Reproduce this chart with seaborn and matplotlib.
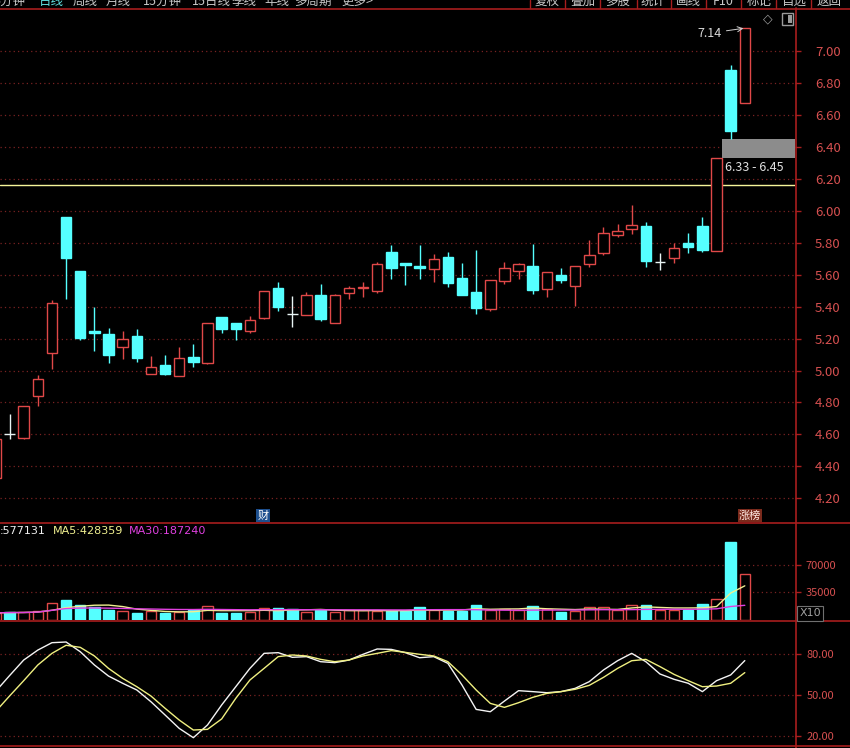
import numpy as np
import pandas as pd
import matplotlib
matplotlib.use("Agg")
import matplotlib.pyplot as plt
from matplotlib.patches import Rectangle
from matplotlib.lines import Line2D
import seaborn as sns

# ---------------- data ----------------
opens = [4.33, 4.60, 4.58, 4.84, 5.11, 5.96, 5.62, 5.25, 5.23, 5.15,
         5.215, 4.98, 5.035, 4.965, 5.085, 5.045, 5.333, 5.295, 5.25, 5.33,
         5.514, 5.353, 5.345, 5.472, 5.30, 5.483, 5.514, 5.50, 5.74, 5.674,
         5.653, 5.636, 5.707, 5.58, 5.49, 5.383, 5.56, 5.62, 5.653, 5.51,
         5.60, 5.53, 5.666, 5.736, 5.849, 5.883, 5.903, 5.68, 5.705, 5.80,
         5.903, 5.75, 6.88, 6.67]
highs = [4.57, 4.73, 4.78, 4.97, 5.44, 5.96, 5.62, 5.40, 5.265, 5.25,
         5.26, 5.09, 5.10, 5.15, 5.165, 5.30, 5.335, 5.295, 5.34, 5.50,
         5.555, 5.466, 5.49, 5.54, 5.48, 5.528, 5.555, 5.68, 5.784, 5.674,
         5.784, 5.728, 5.74, 5.67, 5.753, 5.564, 5.68, 5.67, 5.79, 5.614,
         5.64, 5.653, 5.816, 5.895, 5.916, 6.034, 5.926, 5.736, 5.795, 5.857,
         5.957, 6.33, 6.91, 7.14]
lows = [4.30, 4.57, 4.57, 4.78, 5.01, 5.45, 5.19, 5.12, 5.045, 5.07,
        5.055, 4.98, 4.97, 4.965, 5.02, 5.04, 5.237, 5.19, 5.237, 5.325,
        5.374, 5.274, 5.345, 5.307, 5.30, 5.45, 5.457, 5.486, 5.574, 5.534,
        5.574, 5.555, 5.52, 5.474, 5.353, 5.372, 5.54, 5.574, 5.476, 5.457,
        5.545, 5.403, 5.645, 5.722, 5.836, 5.853, 5.645, 5.628, 5.67, 5.736,
        5.74, 5.75, 6.45, 6.67]
closes = [4.57, 4.60, 4.78, 4.945, 5.42, 5.705, 5.205, 5.235, 5.10, 5.20,
          5.08, 5.02, 4.98, 5.08, 5.055, 5.30, 5.258, 5.258, 5.316, 5.50,
          5.40, 5.353, 5.472, 5.324, 5.472, 5.514, 5.522, 5.666, 5.643, 5.657,
          5.64, 5.70, 5.545, 5.474, 5.389, 5.564, 5.64, 5.664, 5.503, 5.614,
          5.566, 5.653, 5.722, 5.86, 5.872, 5.91, 5.686, 5.68, 5.767, 5.774,
          5.753, 6.33, 6.50, 7.14]
volume = [9000, 9800, 9800, 11800, 21200, 25500, 18700, 16500, 12700, 11800,
          9300, 11000, 9300, 10200, 12700, 17800, 9300, 9300, 10200, 14900,
          15300, 13600, 10600, 12700, 10200, 12700, 12700, 11800, 11000, 11000,
          16100, 12700, 11900, 11900, 18700, 12700, 14400, 12700, 17800, 13600,
          10200, 11900, 16100, 16100, 12700, 19500, 18700, 12700, 12700, 12700,
          20400, 26700, 98400, 58500]
doji_volume_up = {1: False, 21: False, 47: True}
k_vals = [52.7, 64.4, 75.8, 83.1, 88.5, 89.0, 81.9, 72.2, 64.1, 58.8,
          53.9, 45.3, 35.6, 25.8, 19.0, 28.3, 42.9, 56.3, 69.7, 80.7,
          81.2, 77.8, 78.3, 74.6, 73.9, 75.8, 80.0, 83.9, 83.6, 81.2,
          77.5, 78.3, 73.4, 57.5, 39.7, 38.0, 45.8, 53.4, 52.7, 51.9,
          52.7, 55.1, 60.0, 68.5, 75.3, 80.7, 74.6, 65.6, 61.7, 58.8,
          52.7, 60.7, 64.9, 75.4]
d_vals = [38.0, 49.5, 60.7, 72.2, 80.7, 86.6, 85.1, 78.8, 69.7, 62.4,
          56.3, 49.5, 40.5, 31.9, 24.6, 25.1, 32.7, 47.8, 61.2, 69.7,
          78.3, 79.5, 78.8, 76.3, 74.6, 75.8, 78.8, 80.7, 82.7, 81.4,
          80.0, 78.8, 74.6, 64.9, 53.9, 44.1, 41.2, 44.6, 48.5, 51.4,
          52.7, 54.4, 57.3, 63.1, 69.7, 75.3, 76.3, 71.0, 65.3, 60.7,
          56.3, 56.8, 58.8, 66.6]
price_ticks = [4.20, 4.40, 4.60, 4.80, 5.00, 5.20, 5.40, 5.60, 5.80,
               6.00, 6.20, 6.40, 6.60, 6.80, 7.00]
vol_ticks = [35000, 70000]
kd_ticks = [20, 50, 80]
resistance_level = 6.16
vol_label_values = {"": 577131, "MA5": 428359, "MA30": 187240}
top_left_menu = ["5分钟", "日线", "周线", "月线", "15分钟", "15日线", "季线", "年线", "多周期", "更多>"]
top_right_menu = ["复权", "叠加", "多股", "统计", "画线", "F10", "标记", "自选", "返回"]

# ---------------- style ----------------
sns.set_theme(style="dark", rc={"axes.facecolor": "black", "figure.facecolor": "black"})
plt.rcParams["font.family"] = ["Noto Sans CJK SC", "DejaVu Sans"]

W, H = 850, 748
fig = plt.figure(figsize=(W / 100, H / 100), dpi=100)
fig.patch.set_facecolor("black")


def rect(x0, y0, x1, y1):
    return [x0 / W, 1 - y1 / H, (x1 - x0) / W, (y1 - y0) / H]


ax_p = fig.add_axes(rect(0, 8, 795, 522))
ax_v = fig.add_axes(rect(0, 522, 795, 620))
ax_k = fig.add_axes(rect(0, 620, 795, 745))

RED = "#e04848"
CYAN = "#55ffff"
WHITE = "#e8f4f4"
GRID = "#7a2222"
AXRED = "#a81e1e"
LBL = "#d65050"
XL = (0.325, 56.55)
BW = 0.74

df = pd.DataFrame(dict(o=opens, h=highs, l=lows, c=closes, v=volume))
idx = np.arange(len(df))
up = (df.c > df.o).values
dn = (df.c < df.o).values
eq = ~(up | dn)

for ax in (ax_p, ax_v, ax_k):
    ax.set_facecolor("black")
    ax.set_xlim(*XL)
    ax.set_xticks([])
    for s in ax.spines.values():
        s.set_visible(False)
    ax.yaxis.tick_right()
    ax.grid(False)
    ax.tick_params(axis="y", which="major", direction="out", length=4.5, width=1,
                   color=AXRED, labelcolor=LBL, right=True, left=False)

# ---- price panel ----
for mask, col in ((up, RED), (dn, CYAN), (eq, WHITE)):
    ax_p.vlines(idx[mask], df.l[mask], df.h[mask], color=col, lw=1, zorder=2)
ax_p.bar(idx[up], (df.c - df.o)[up], bottom=df.o[up], width=BW,
         facecolor="black", edgecolor=RED, lw=1, zorder=3)
ax_p.bar(idx[dn], (df.o - df.c)[dn], bottom=df.c[dn], width=BW,
         color=CYAN, edgecolor=CYAN, lw=1, zorder=3)
ax_p.hlines(df.o[eq], idx[eq] - BW / 2, idx[eq] + BW / 2, color=WHITE, lw=1, zorder=3)

for t in price_ticks:
    ax_p.axhline(t, color=GRID, lw=0.9, ls=(0, (1, 2.5)), zorder=0)
ax_p.set_ylim(4.053, 7.266)
ax_p.set_yticks(price_ticks)
ax_p.set_yticklabels([f"{t:.2f}" for t in price_ticks], fontsize=9.5)
ax_p.tick_params(axis="y", pad=10)
ax_p.axhline(resistance_level, color="#f5f59a", lw=1, zorder=1)

# gap between the last limit-up days
gi = len(df) - 2
gap_low, gap_high = highs[gi - 1], lows[gi]
gx0 = (gi - 1) + BW / 2
ax_p.add_patch(Rectangle((gx0, gap_low), XL[1] - gx0, gap_high - gap_low,
                         facecolor="#8c8c8c", edgecolor="none", zorder=1))
ax_p.annotate(f"{gap_low:.2f} - {gap_high:.2f}", xy=(gx0, gap_low), xytext=(3, -10),
              textcoords="offset pixels", ha="left", va="center", color="#e0e0e0",
              fontsize=9)
imax = int(np.argmax(highs))
ax_p.annotate(f"{highs[imax]:.2f}", xy=(imax, highs[imax]), xytext=(-23, -5),
              textcoords="offset pixels", ha="right", va="center", color="#d8d8d8",
              fontsize=9,
              arrowprops=dict(arrowstyle="->", color="#d0d0d0", lw=0.7,
                              shrinkA=1, shrinkB=1))

# ---- volume panel ----
vol_up = up.copy()
for i, v in doji_volume_up.items():
    vol_up[i] = v
ax_v.bar(idx[vol_up], df.v[vol_up], width=BW, facecolor="black", edgecolor=RED, lw=1, zorder=3)
ax_v.bar(idx[~vol_up], df.v[~vol_up], width=BW, color=CYAN, edgecolor=CYAN, lw=1, zorder=3)
ma5 = df.v.rolling(5, min_periods=1).mean()
ma30 = df.v.rolling(30, min_periods=1).mean()
sns.lineplot(x=idx, y=ma5.values, ax=ax_v, color="#f0f090", lw=1, zorder=4, legend=False)
sns.lineplot(x=idx, y=ma30.values, ax=ax_v, color="#e040e0", lw=1, zorder=4, legend=False)
for t in vol_ticks:
    ax_v.axhline(t, color=GRID, lw=0.9, ls=(0, (1, 2.5)), zorder=0)
ax_v.set_ylim(0, 124300)
ax_v.set_yticks(vol_ticks)
ax_v.set_yticklabels([str(t) for t in vol_ticks], fontsize=8)
ax_v.tick_params(axis="y", pad=3)
ax_v.set_ylabel("")

# ---- K/D panel ----
sns.lineplot(x=idx, y=k_vals, ax=ax_k, color="#f4f4f4", lw=1, legend=False)
sns.lineplot(x=idx, y=d_vals, ax=ax_k, color="#f0f080", lw=1, legend=False)
for t in kd_ticks:
    ax_k.axhline(t, color=GRID, lw=0.9, ls=(0, (1, 2.5)), zorder=0)
ax_k.set_ylim(13.65, 105.1)
ax_k.set_yticks(kd_ticks)
ax_k.set_yticklabels([f"{t:.2f}" for t in kd_ticks], fontsize=8)
ax_k.tick_params(axis="y", pad=4)
ax_k.set_ylabel("")

# ---- frame lines ----
def hline(y, x0=0, x1=W, color=AXRED, lw=1.2):
    fig.add_artist(Line2D([x0 / W, x1 / W], [1 - y / H, 1 - y / H],
                          transform=fig.transFigure, color=color, lw=lw))


def vline(x, y0, y1, color=AXRED, lw=1.2):
    fig.add_artist(Line2D([x / W, x / W], [1 - y0 / H, 1 - y1 / H],
                          transform=fig.transFigure, color=color, lw=lw))


hline(8.5)
hline(522.5)
hline(620.5)
hline(745.5)
vline(795.5, 8, 748)

# ---- top menu bar (mostly cut off) ----
left_x = [10, 51, 85, 118, 162, 211, 244, 277, 313, 357]
for name, x in zip(top_left_menu, left_x):
    fig.text(x / W, 1 - 1.5 / H, name, ha="center", va="center", fontsize=9,
             color="#60e0e0" if name == "日线" else "#c8c8c8")
right_x = [547, 583, 618, 653, 688, 723, 759, 794, 829]
for name, x in zip(top_right_menu, right_x):
    fig.text(x / W, 1 - 1.5 / H, name, ha="center", va="center", fontsize=9, color="#c8c8c8")
for x in [530, 565, 600, 637, 671, 706, 741, 776, 811]:
    vline(x, 0, 8, lw=1)

# top-right icons
fig.text(768 / W, 1 - 19 / H, "◇", ha="center", va="center", fontsize=9,
         color="#9a9a9a", family=["DejaVu Sans"])
fig.add_artist(Rectangle((782 / W, 1 - 25 / H), 11 / W, 12 / H, transform=fig.transFigure,
                         facecolor="black", edgecolor="#9a9a9a", lw=1))
fig.add_artist(Rectangle((788 / W, 1 - 23 / H), 3.5 / W, 8 / H, transform=fig.transFigure,
                         facecolor="#9a9a9a", edgecolor="none"))

# event markers at the bottom of the price panel
fig.text(263 / W, 1 - 515.5 / H, "财", ha="center", va="center", fontsize=8, color="white",
         bbox=dict(boxstyle="square,pad=0.1", facecolor="#1d4f8e", edgecolor="none"))
fig.text(750 / W, 1 - 515.5 / H, "涨榜", ha="center", va="center", fontsize=8, color="#ffe8e0",
         bbox=dict(boxstyle="square,pad=0.1", facecolor="#7a2a1c", edgecolor="none"))

# volume legend text
vx = [0, 53, 129]
vcol = ["#f0f0f0", "#f0f090", "#e040e0"]
for (name, val), x, col in zip(vol_label_values.items(), vx, vcol):
    fig.text(x / W, 1 - 531 / H, f"{name}:{val}" if name else f":{val}", ha="left",
             va="center", fontsize=8, color=col, family=["DejaVu Sans"])

# X10 box
fig.text(810 / W, 1 - 613.5 / H, "X10", ha="center", va="center", fontsize=8, color="#a0a0a0",
         family=["DejaVu Sans"],
         bbox=dict(boxstyle="square,pad=0.2", facecolor="black", edgecolor="#707070", lw=0.8))

fig.savefig("out.png", dpi=100, facecolor="black")
